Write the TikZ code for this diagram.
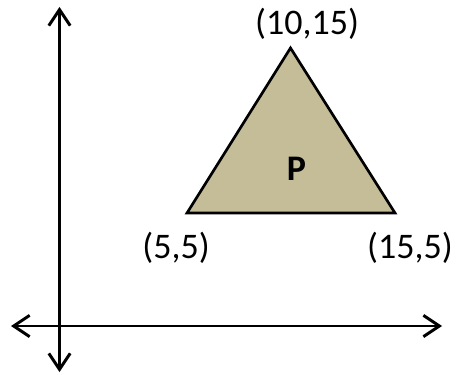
\documentclass[tikz,border=0pt]{standalone}
\usepackage{fontspec}
\setmainfont{Carlito}
\usetikzlibrary{arrows.meta,positioning}
\definecolor{sand}{RGB}{196,189,152}
\tikzset{
  axis/.style={line width=2.2pt, {Straight Barb[length=12pt,width=16pt]}-{Straight Barb[length=12pt,width=16pt]}},
  coordlabel/.style={font=\fontsize{27}{32}\selectfont, inner sep=0pt}
}

\begin{document}
\begin{tikzpicture}[x=0.75pt, y=-0.75pt]
    \useasboundingbox (0,0) rectangle (459,374);
    % axes
    \coordinate (ytop) at (59.5,7);
    \coordinate (ybot) at (59.5,372);
    \coordinate (xleft) at (11,326);
    \coordinate (xright) at (442,326);
    \draw[axis] (ytop) -- (ybot);
    \draw[axis] (xleft) -- (xright);
    % triangle P
    \coordinate (top) at (290.5,48);
    \coordinate (left) at (187,213);
    \coordinate (right) at (395,213);
    \draw[fill=sand, line width=2pt, line join=miter] (top) -- (left) -- (right) -- cycle;
    \node[coordlabel, font=\fontsize{27}{32}\selectfont\bfseries] (p) at (296.5,169) {P};
    \node[coordlabel] (toplabel) at (307,24) {(10,15)};
    \node[coordlabel] (leftlabel) at (176,248) {(5,5)};
    \node[coordlabel] (rightlabel) at (410,248) {(15,5)};
\end{tikzpicture}
\end{document}
